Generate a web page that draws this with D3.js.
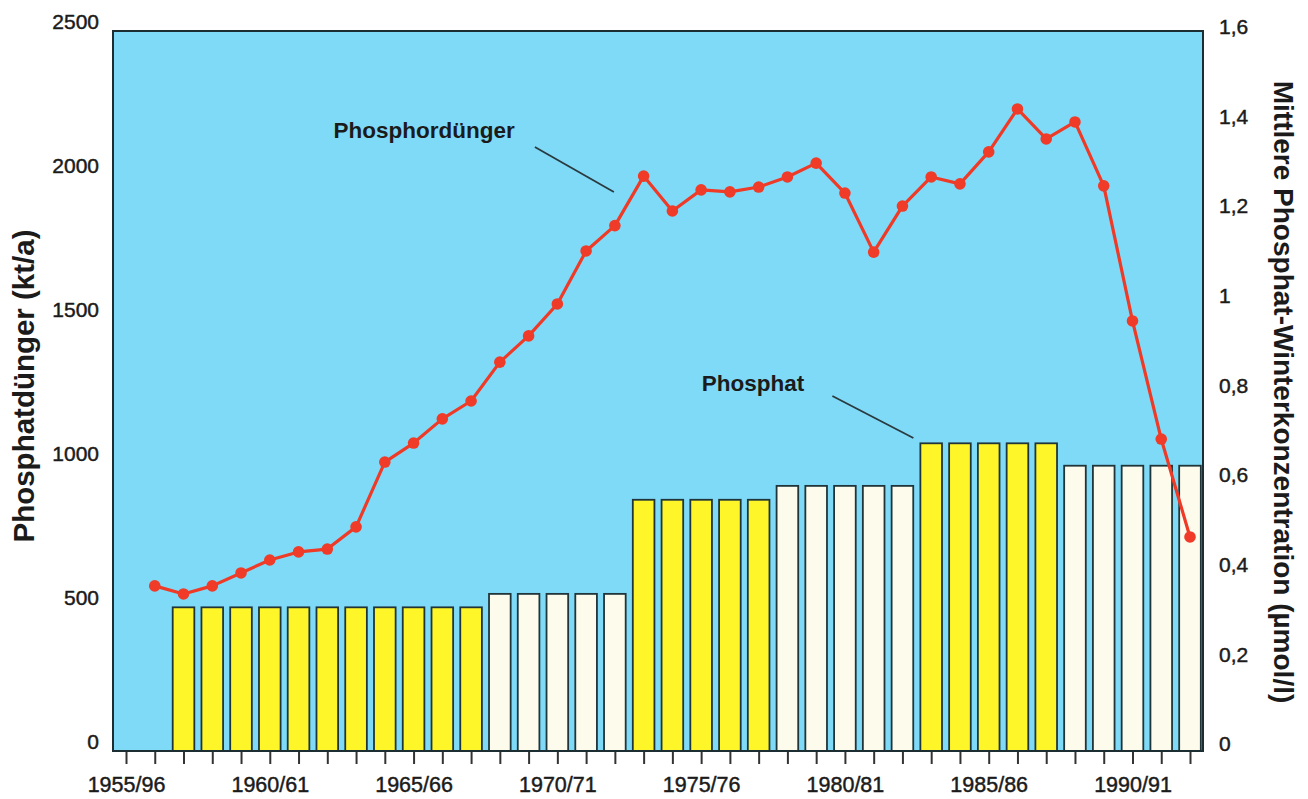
<!DOCTYPE html>
<html><head><meta charset="utf-8">
<script src="https://cdn.jsdelivr.net/npm/d3@7"></script>
<style>
html,body{margin:0;padding:0;background:#fff;}
svg{display:block;font-family:"Liberation Sans",Arial,Helvetica,sans-serif;}
</style></head>
<body>
<svg id="chart" width="1308" height="799"></svg>
<script>
// ---- data ----
const categories = ["1955/56","1956/57","1957/58","1958/59","1959/60","1960/61","1961/62","1962/63","1963/64","1964/65",
  "1965/66","1966/67","1967/68","1968/69","1969/70","1970/71","1971/72","1972/73","1973/74","1974/75",
  "1975/76","1976/77","1977/78","1978/79","1979/80","1980/81","1981/82","1982/83","1983/84","1984/85",
  "1985/86","1986/87","1987/88","1988/89","1989/90","1990/91","1991/92","1992/93"];
const tickCategories = ["1955/56","1960/61","1965/66","1970/71","1975/76","1980/81","1985/86","1990/91"];
const tickLabels = ["1955/96","1960/61","1965/66","1970/71","1975/76","1980/81","1985/86","1990/91"];
// Phosphordünger (kt/a), left axis
const fertilizer = [null, 542, 514, 542, 587, 632, 660, 670, 747, 972,
  1038, 1122, 1184, 1319, 1410, 1521, 1705, 1793, 1965, 1844,
  1917, 1910, 1927, 1962, 2010, 1906, 1701, 1861, 1962, 1938,
  2049, 2198, 2094, 2153, 1931, 1462, 1052, 712];
// Mittlere Phosphat-Winterkonzentration (µmol/l), right axis
const phosphate = [null, null, 0.305, 0.305, 0.305, 0.305, 0.305, 0.305, 0.305, 0.305,
  0.305, 0.305, 0.305, 0.335, 0.335, 0.335, 0.335, 0.335, 0.545, 0.545,
  0.545, 0.545, 0.545, 0.576, 0.576, 0.576, 0.576, 0.576, 0.671, 0.671,
  0.671, 0.671, 0.671, 0.621, 0.621, 0.621, 0.621, 0.621];
const leftTicks = [0, 500, 1000, 1500, 2000, 2500];
const rightTicks = [0, 0.2, 0.4, 0.6, 0.8, 1.0, 1.2, 1.4, 1.6];
const leftTitle = "Phosphatdünger (kt/a)";
const rightTitle = "Mittlere Phosphat-Winterkonzentration (µmol/l)";
const lineLabel = "Phosphordünger";
const barLabel = "Phosphat";

// ---- layout ----
const plot = {left: 113, top: 31, right: 1203, bottom: 751};
const svg = d3.select("#chart");
const font = 21;
const ink = "#1b1b1b";

const x = d3.scalePoint().domain(categories).range([126, 1190]);
const yL = d3.scaleLinear().domain([0, 2500]).range([742, 22]);
const yR = d3.scaleLinear().domain([0, 1.6]).range([744, 27]);
const bw = x.step() * 0.752;

// background
svg.append("rect").attr("x", plot.left).attr("y", plot.top)
  .attr("width", plot.right - plot.left).attr("height", plot.bottom - plot.top)
  .attr("fill", "#7fdaf8");

// bars: colour alternates with each new period value
let run = 0, prev = null;
const barData = categories.map((c, i) => {
  const v = phosphate[i];
  if (v != null && prev != null && v !== prev) run++;
  if (v != null) prev = v;
  return {c, v, run};
}).filter(d => d.v != null);

svg.append("g").selectAll("rect").data(barData).join("rect")
  .attr("x", d => x(d.c) - bw / 2)
  .attr("y", d => yR(d.v))
  .attr("width", bw)
  .attr("height", d => plot.bottom - yR(d.v))
  .attr("fill", d => d.run % 2 === 0 ? "#fff62a" : "#fdfbec")
  .attr("stroke", "#1f3539").attr("stroke-width", 1.8);

// frame
svg.append("rect").attr("x", plot.left).attr("y", plot.top)
  .attr("width", plot.right - plot.left).attr("height", plot.bottom - plot.top)
  .attr("fill", "none").attr("stroke", "#1c2e32").attr("stroke-width", 2);

// line
const lineData = categories.map((c, i) => ({c, v: fertilizer[i]})).filter(d => d.v != null);
svg.append("path").datum(lineData)
  .attr("d", d3.line().x(d => x(d.c)).y(d => yL(d.v)))
  .attr("fill", "none").attr("stroke", "#ee3a26").attr("stroke-width", 3.2)
  .attr("stroke-linejoin", "round");
svg.append("g").selectAll("circle").data(lineData).join("circle")
  .attr("cx", d => x(d.c)).attr("cy", d => yL(d.v)).attr("r", 5.8)
  .attr("fill", "#ef3b27");

function styleText(sel, size) {
  sel.attr("font-size", size).attr("fill", ink).attr("font-family", null)
    .attr("stroke", ink).attr("stroke-width", 0.45);
}

// left axis
const gl = svg.append("g").attr("transform", `translate(${plot.left},0)`)
  .call(d3.axisLeft(yL).tickValues(leftTicks).tickSize(0).tickPadding(14).tickFormat(d3.format("d")));
gl.select(".domain").remove();
styleText(gl.selectAll("text"), font);

// right axis
const gr = svg.append("g").attr("transform", `translate(${plot.right},0)`)
  .call(d3.axisRight(yR).tickValues(rightTicks).tickSize(0).tickPadding(16)
    .tickFormat(d => String(+d.toFixed(1)).replace(".", ",")));
gr.select(".domain").remove();
styleText(gr.selectAll("text"), font);

// bottom axis
const gb = svg.append("g").attr("transform", `translate(0,${plot.bottom + 1})`)
  .call(d3.axisBottom(x).tickSize(12).tickPadding(13)
    .tickFormat(c => { const k = tickCategories.indexOf(c); return k >= 0 ? tickLabels[k] : ""; }));
gb.select(".domain").remove();
gb.selectAll("line").attr("stroke", "#333").attr("stroke-width", 2);
styleText(gb.selectAll("text"), 21.5);

// axis titles
svg.append("text").attr("transform", `translate(23,386) rotate(-90)`)
  .attr("text-anchor", "middle").attr("dominant-baseline", "central")
  .attr("font-size", 29.5).attr("font-weight", "bold").attr("fill", ink)
  .text(leftTitle);
svg.append("text").attr("transform", `translate(1283,392) rotate(90)`)
  .attr("text-anchor", "middle").attr("dominant-baseline", "central")
  .attr("font-size", 28).attr("font-weight", "bold").attr("fill", ink)
  .text(rightTitle);

// annotations (anchored in data space)
const annLine = {ax: x("1972/73") - 1, ay: yL(1910)};
const annBar = {ax: x("1983/84") - bw / 2 - 7, ay: yR(0.683)};
function annotate(a, text, dx, dy, tdx, tdy) {
  const sx = a.ax + dx, sy = a.ay + dy;
  svg.append("line").attr("x1", sx).attr("y1", sy).attr("x2", a.ax).attr("y2", a.ay)
    .attr("stroke", "#2a3a3e").attr("stroke-width", 1.8);
  svg.append("text").attr("x", sx + tdx).attr("y", sy + tdy)
    .attr("text-anchor", "end").attr("font-size", 22.5).attr("font-weight", "bold")
    .attr("fill", ink).text(text);
}
annotate(annLine, lineLabel, -79, -45, -20, -9);
annotate(annBar, barLabel, -81, -42, -28, -5);
</script>
</body></html>
